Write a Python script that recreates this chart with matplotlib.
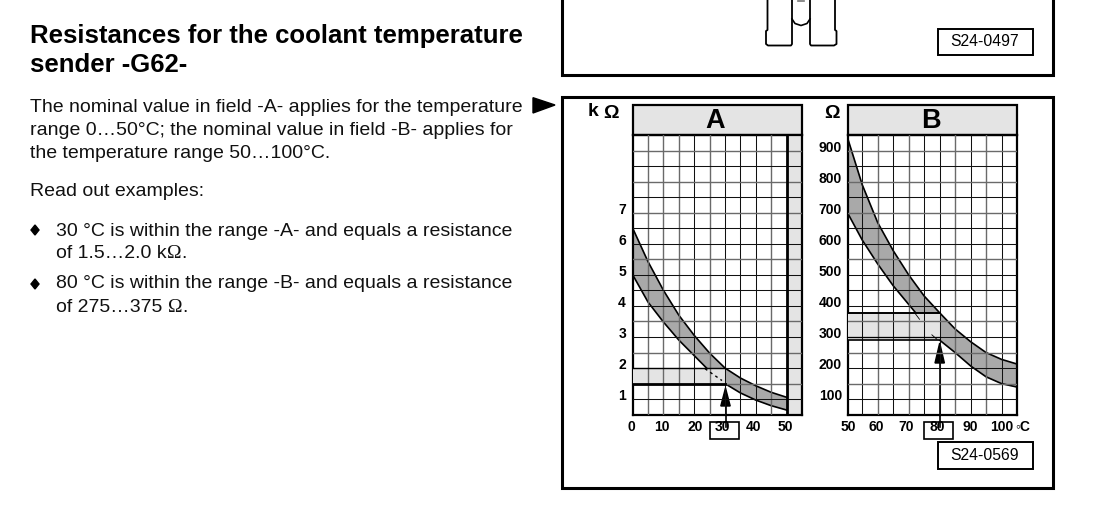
"""
Coolant temperature sender page: text column plus two resistance charts.
"""

import matplotlib
matplotlib.use("Agg")
import matplotlib.pyplot as plt
from matplotlib.patches import Rectangle, Polygon

plt.rcParams["font.family"] = ["Liberation Sans", "DejaVu Sans"]

W, H = 1105, 529

# chart A, kOhm against degC
a_x = [0, 5, 10, 15, 20, 25, 30, 35, 40, 45, 50]
a_upper = [6.5, 5.42, 4.5, 3.7, 3.05, 2.48, 2.0, 1.68, 1.43, 1.22, 1.06]
a_lower = [5.0, 4.12, 3.48, 2.9, 2.4, 1.9, 1.5, 1.2, 0.97, 0.79, 0.65]

# chart B, Ohm against degC
b_x = [50.5, 55, 60, 65, 70, 75, 80, 85, 90, 95, 100, 105]
b_upper = [933, 790, 668, 578, 500, 432, 378, 326, 285, 250, 228, 213]
b_lower = [695, 612, 535, 465, 405, 345, 290, 250, 207, 172, 150, 139]

a_xticks = [0, 10, 20, 30, 40, 50]
b_xticks = [50, 60, 70, 80, 90, 100]
a_yticks = [1, 2, 3, 4, 5, 6, 7]
b_yticks = [100, 200, 300, 400, 500, 600, 700, 800, 900]

GREY_BAND = "#a9a9a9"
GREY_LIGHT = "#e4e4e4"
GRID_DARK = "#111111"
GRID_GREY = "#6a6a6a"

fig = plt.figure(figsize=(W / 100, H / 100), dpi=100)

# page layer, in pixels
page = fig.add_axes([0, 0, 1, 1])
page.set_xlim(0, W)
page.set_ylim(H, 0)
page.axis("off")


def data_axes(x0, x1, y0, y1):
    ax = fig.add_axes([x0 / W, 1 - y1 / H, (x1 - x0) / W, (y1 - y0) / H])
    ax.patch.set_alpha(0)
    ax.set_xticks([])
    ax.set_yticks([])
    for s in ax.spines.values():
        s.set_linewidth(1.6)
    return ax


def draw_grid(ax, xs_grey, xs_dark, ys_grey, ys_dark):
    for v in xs_grey:
        ax.axvline(v, color=GRID_GREY, lw=1.0, zorder=4.5)
    for v in xs_dark:
        ax.axvline(v, color=GRID_DARK, lw=0.75, zorder=4.5)
    for v in ys_grey:
        ax.axhline(v, color=GRID_GREY, lw=1.0, zorder=4.5)
    for v in ys_dark:
        ax.axhline(v, color=GRID_DARK, lw=0.75, zorder=4.5)


def band(ax, xs, upper, lower):
    ax.fill_between(xs, lower, upper, color=GREY_BAND, lw=0, zorder=2)
    ax.plot(xs, upper, color="black", lw=1.2, zorder=4)
    ax.plot(xs, lower, color="black", lw=1.2, zorder=4)


def text_with_omega(x, y, before, after):
    # the print sets the ohm sign in a serif face
    renderer = fig.canvas.get_renderer()
    t = page.text(x, y, before, fontsize=14, va="baseline", color="#111111")
    x1 = t.get_window_extent(renderer).x1
    o = page.text(x1, y, "Ω", fontsize=14, va="baseline", color="#111111", family="Liberation Serif")
    x2 = o.get_window_extent(renderer).x1
    page.text(x2, y, after, fontsize=14, va="baseline", color="#111111")


# ---------------------------------------------------------------- chart A
ax_a = data_axes(632.7, 802, 135, 414.7)
ax_a.set_xlim(0, 55)
ax_a.set_ylim(0.5, 9.5)
ax_a.axvspan(50, 55, color=GREY_LIGHT, lw=0, zorder=1)
band(ax_a, a_x, a_upper, a_lower)
ax_a.add_patch(Rectangle((0, 1.5), 30, 0.5, facecolor=GREY_LIGHT, edgecolor="none", zorder=4.2))
draw_grid(ax_a,
          [5, 10, 15, 25, 45],
          [20, 30, 35, 40],
          [9, 8, 7, 5.5, 3.5, 2.5, 1.5],
          [8.5, 7.5, 6.5, 6, 5, 4.5, 4, 3, 2, 1])
ax_a.axvline(50, color="black", lw=2, zorder=5)
ax_a.plot([0, 30], [2, 2], color="black", lw=1.0, zorder=5)
ax_a.plot([0, 30], [1.5, 1.5], color="black", lw=2, zorder=5)
ax_a.plot([23.5, 29], [1.98, 1.6], color="black", lw=1, ls=(0, (2, 2.5)), zorder=5)

# ---------------------------------------------------------------- chart B
ax_b = data_axes(848.3, 1017, 135, 414.7)
ax_b.set_xlim(50.5, 105)
ax_b.set_ylim(50, 950)
band(ax_b, b_x, b_upper, b_lower)
ax_b.add_patch(Rectangle((50.5, 290), 29.5, 88, facecolor=GREY_LIGHT, edgecolor="none", zorder=4.2))
draw_grid(ax_b,
          [60, 70, 85, 95],
          [55, 65, 75, 80, 90, 100],
          [900, 800, 700, 550, 350, 250, 150],
          [850, 750, 650, 600, 500, 450, 400, 300, 200, 100])
ax_b.plot([50.5, 80], [378, 378], color="black", lw=1.4, zorder=5)
ax_b.plot([50.5, 80], [299, 299], color="black", lw=0.9, zorder=5)
ax_b.plot([50.5, 80], [290, 290], color="black", lw=1.2, zorder=5)
ax_b.plot([72, 73.5], [377, 357], color="black", lw=0.6, zorder=5)
ax_b.plot([77.5, 79.1], [307, 293], color="black", lw=0.6, zorder=5)

# headers
for x0, x1, letter in [(632.7, 802, "A"), (848.3, 1017, "B")]:
    page.add_patch(Rectangle((x0, 104.7), x1 - x0, 30.3, facecolor=GREY_LIGHT,
                             edgecolor="black", lw=1.6))
    page.text((x0 + x1) / 2 - 2, 120.5, letter, fontsize=19.5, fontweight="bold",
              ha="center", va="center")

# tick labels, they sit a bit off the grid like in the print
for v, px in zip(a_xticks, [631, 662, 695, 722.7, 753, 785.7]):
    page.text(px, 427, str(v), fontsize=10, fontweight="bold", ha="center", va="center")
for v, px in zip(b_xticks, [848.7, 876.7, 906, 937, 970.7, 1001.7]):
    page.text(px, 427, str(v), fontsize=10, fontweight="bold", ha="center", va="center")
page.text(1023, 427, "◦C", fontsize=10, fontweight="bold", ha="center", va="center")
for v in a_yticks:
    page.text(626, 399.2 - (v - 1) * 31.08 - 3, str(v), fontsize=10, fontweight="bold",
              ha="right", va="center")
for v in b_yticks:
    page.text(842, 399.2 - (v / 100 - 1) * 31.08 - 3, str(v), fontsize=10, fontweight="bold",
              ha="right", va="center")
page.text(593, 111, "k", fontsize=14, fontweight="bold", ha="center", va="center")
page.text(611.5, 113, "Ω", fontsize=14, fontweight="bold", ha="center", va="center")
page.text(832, 113, "Ω", fontsize=14, fontweight="bold", ha="center", va="center")

# arrows and boxed ticks
page.add_patch(Rectangle((710.3, 421.7), 28.7, 17, facecolor="none", edgecolor="black", lw=1.2, zorder=6))
page.add_patch(Rectangle((924.3, 421.7), 29, 17, facecolor="none", edgecolor="black", lw=1.2, zorder=6))
for xc, tip, base in [(725.5, 388, 406), (939.7, 343, 363)]:
    page.plot([xc, xc], [tip + 4, 427], color="black", lw=1.2, zorder=7)
    page.add_patch(Polygon([(xc, tip), (xc - 4.7, base), (xc + 4.7, base)], color="black", zorder=7))
for tip, base, tail, y in [(634, 654, 665, 375), (864, 884, 896, 327.7)]:
    page.plot([base, tail], [y, y], color="black", lw=1.2, zorder=7)
    page.add_patch(Polygon([(tip, y), (base, y - 4.7), (base, y + 4.7)], color="black", zorder=7))

# frames
page.add_patch(Rectangle((562, -5), 491, 80, facecolor="none", edgecolor="black", lw=2.2))
page.add_patch(Rectangle((562, 96.5), 491, 391, facecolor="none", edgecolor="black", lw=2.2))
for y0, y1, label in [(29, 55, "S24-0497"), (442, 469, "S24-0569")]:
    page.add_patch(Rectangle((937.5, y0), 95.5, y1 - y0, facecolor="white",
                             edgecolor="black", lw=1.4, zorder=8))
    page.text(985, (y0 + y1) / 2, label, fontsize=11.3, ha="center", va="center", zorder=9)

# sender drawing, cut off by the top of the page
page.plot([767.5, 767.5, 766, 766, 768, 791, 792, 792], [0, 30, 31, 44, 45.5, 45.5, 44, 0], color="black", lw=1.3)
page.plot([810, 810, 811, 834, 836.5, 836.5, 835, 835], [0, 44, 45.5, 45.5, 44, 31, 30, 0], color="black", lw=1.3)
page.plot([792, 795, 801, 807, 810], [19, 23.5, 25.5, 23.5, 19], color="black", lw=1.2)
page.plot([798, 804], [1, 1], color="#777777", lw=1.2)

# text column
page.text(30, 43.3, "Resistances for the coolant temperature", fontsize=18.55, fontweight="bold", va="baseline")
page.text(30, 71.7, "sender -G62-", fontsize=18.55, fontweight="bold", va="baseline")
body = [
    (29.5, 112.3, "The nominal value in field -A- applies for the temperature"),
    (29.5, 135, "range 0…50°C; the nominal value in field -B- applies for"),
    (29.5, 157.7, "the temperature range 50…100°C."),
    (29.5, 196, "Read out examples:"),
    (56.5, 235.7, "30 °C is within the range -A- and equals a resistance"),
    (56.5, 288, "80 °C is within the range -B- and equals a resistance"),
]
for x, y, line in body:
    page.text(x, y, line, fontsize=14, va="baseline", color="#111111")
text_with_omega(56.5, 258.3, "of 1.5…2.0 k", ".")
text_with_omega(56.5, 311.5, "of 275…375 ", ".")
for y in [230, 284]:
    page.add_patch(Polygon([(35, y - 5), (39, y), (35, y + 5), (31, y)], color="black"))
page.add_patch(Polygon([(533, 97.7), (555, 105), (533, 113)], color="black"))

fig.savefig("out.png", dpi=100)
plt.close(fig)
